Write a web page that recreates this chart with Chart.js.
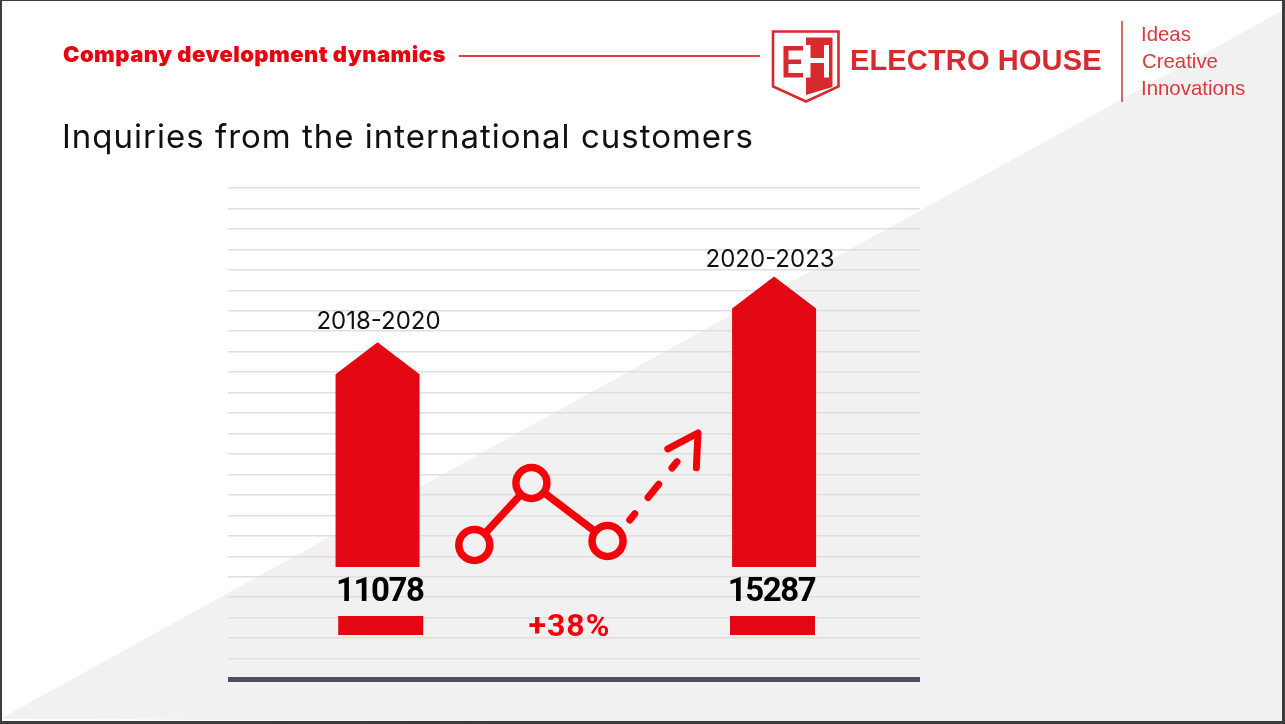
<!DOCTYPE html>
<html lang="en">
<head>
<meta charset="utf-8">
<title>Inquiries from the international customers</title>
<script src="https://cdn.jsdelivr.net/npm/chart.js@4/dist/chart.umd.min.js"></script>
<style>
  html, body { margin: 0; padding: 0; background: #fff; overflow: hidden; }
  #slide { position: relative; width: 1285px; height: 724px; background: #fff; overflow: hidden; }
  #slide div, #slide svg, #slide canvas { position: absolute; }
  #shade { left: 0; top: 0; width: 1285px; height: 724px; background: #f1f1f1;
    clip-path: polygon(1285px 9px, 1285px 724px, 0 719px); }
  #frame { left: 0; top: 0; width: 1285px; height: 724px; box-sizing: border-box;
    border: solid #3c3c3c; border-width: 1px 3px 3px 2px; }
  .txt { white-space: nowrap; line-height: 1; }
  #section { left: 63px; top: 41px; font: 900 22px Inter, sans-serif; color: #e8000d; letter-spacing: 0.45px; }
  #rule { left: 459px; top: 55px; width: 301px; height: 2px; background: #ea3a40; }
  #heading { left: 62px; top: 116px; font: 400 33px Inter, sans-serif; color: #111; letter-spacing: 1px; }
  #brand { left: 850px; top: 44px; font: 700 29px "Liberation Sans", sans-serif; color: #d62a2e; letter-spacing: 0.15px; }
  #divider { left: 1121px; top: 21px; width: 2px; height: 81px; background: #dc6668; }
  .motto { font: 400 20.4px "Liberation Sans", sans-serif; color: #d83a3e; }
</style>
</head>
<body>
<div id="slide">
  <div id="shade"></div>
  <canvas id="chart" width="1285" height="724"></canvas>
  <div class="txt" id="section">Company development dynamics</div>
  <div id="rule"></div>
  <div class="txt" id="heading">Inquiries from the international customers</div>
  <svg style="left:765px;top:25px" width="85" height="85" viewBox="765 25 85 85">
    <path d="M773 31.5H838.5V86.5L806 101.5L773 86.5Z" fill="#fff" stroke="#d62a2e" stroke-width="2.6"/>
    <path d="M783.5 46H803V50.5H788.5V59.5H801V64H788.5V73H803V77.5H783.5Z" fill="#d62a2e"/>
    <path d="M806 37.5H832.5V87L806 95Z" fill="#d62a2e"/>
    <path d="M806 45H810.5V58H824V45H829V77.5H824V63H810.5V77.5H806Z" fill="#fff"/>
  </svg>
  <div class="txt" id="brand">ELECTRO HOUSE</div>
  <div id="divider"></div>
  <div class="txt motto" style="left:1141px;top:23px">Ideas</div>
  <div class="txt motto" style="left:1142px;top:50px">Creative</div>
  <div class="txt motto" style="left:1141px;top:77px">Innovations</div>
  <div id="frame"></div>
</div>
<script>
"use strict";

const periods = ["2018-2020", "2020-2023"];
const inquiries = [11078, 15287];
const growth = "+38%";

// x values are the middle of each period, in years
const barX = [2019, 2021.5];
const barFloor = [-3308, -3308];
const blockX = [2019.02, 2021.49];
const blockTop = [-6446, -6446];
const blockBottom = [-7663, -7663];

// trend icon between the bars, read in the same units as the axes
const trendX = [2019.61, 2019.97, 2020.45];
const trendY = [-1900, 2070, -1643];
const dashX = [2020.59, 2020.907];
const dashY = [-299, 3671];
const headX = [2020.83, 2021.02, 2021.01];
const headY = [4250, 5272, 3040];
const growthX = 2020.21;

const gridStep = 1310;
const xMin = 2018.057;
const xMax = 2022.42;
const RED = "#e30613";
const ICON = "#f5000a";

const arrowBars = {
  id: "arrowBars",
  // first dataset is drawn with a pointed top instead of a plain rectangle
  beforeDatasetDraw(chart, args) {
    if (args.index !== 0) return;
    const { ctx, scales } = chart;
    args.meta.data.forEach((bar, i) => {
      const half = bar.width / 2;
      const tip = scales.y.getPixelForValue(inquiries[i]);
      const foot = scales.y.getPixelForValue(barFloor[i]);
      ctx.beginPath();
      ctx.moveTo(bar.x, tip);
      ctx.lineTo(bar.x + half, tip + 32);
      ctx.lineTo(bar.x + half, foot);
      ctx.lineTo(bar.x - half, foot);
      ctx.lineTo(bar.x - half, tip + 32);
      ctx.closePath();
      ctx.fillStyle = RED;
      ctx.fill();
    });
    return false;
  },
  afterDatasetsDraw(chart) {
    const { ctx, scales } = chart;
    const bars = chart.getDatasetMeta(0).data;
    const blocks = chart.getDatasetMeta(1).data;
    ctx.save();
    ctx.textAlign = "center";
    ctx.textBaseline = "middle";
    bars.forEach((bar, i) => {
      const tip = scales.y.getPixelForValue(inquiries[i]);
      ctx.letterSpacing = "0px";
      ctx.font = '400 24px Inter, sans-serif';
      ctx.fillStyle = "#111";
      ctx.fillText(periods[i], i ? bar.x - 4 : bar.x + 1, tip - (i ? 17 : 21));
      ctx.letterSpacing = "-1.4px";
      ctx.font = '700 33px Roboto, sans-serif';
      ctx.fillStyle = "#000";
      ctx.fillText(String(inquiries[i]), blocks[i].x - 1, scales.y.getPixelForValue(blockTop[i]) - 23);
    });
    ctx.letterSpacing = "1px";
    ctx.font = '700 32px Roboto, sans-serif';
    ctx.fillStyle = ICON;
    ctx.fillText(growth, scales.x.getPixelForValue(growthX), scales.y.getPixelForValue(blockBottom[0]) - 7);
    ctx.restore();
  },
};

new Chart(document.getElementById("chart"), {
  type: "bar",
  plugins: [arrowBars],
  data: {
    datasets: [
      {
        label: "Inquiries",
        data: barX.map((x, i) => ({ x, y: [barFloor[i], inquiries[i]] })),
        backgroundColor: RED,
        grouped: false,
        maxBarThickness: 84,
      },
      {
        label: "Base",
        xAxisID: "x2",
        data: blockX.map((x, i) => ({ x, y: [blockBottom[i], blockTop[i]] })),
        backgroundColor: RED,
        grouped: false,
        maxBarThickness: 85,
      },
      {
        type: "line",
        label: "Trend",
        data: trendX.map((x, i) => ({ x, y: trendY[i] })),
        borderColor: ICON,
        borderWidth: 7.5,
        pointRadius: 15.5,
        pointBorderWidth: 7.5,
        pointBorderColor: ICON,
        pointBackgroundColor: "#f1f1f1",
      },
      {
        type: "line",
        label: "Forecast",
        data: dashX.map((x, i) => ({ x, y: dashY[i] })),
        borderColor: ICON,
        borderWidth: 7,
        borderDash: [8, 21, 17, 21, 8],
        borderCapStyle: "round",
        pointRadius: 0,
      },
      {
        type: "line",
        label: "Arrow",
        data: headX.map((x, i) => ({ x, y: headY[i] })),
        borderColor: ICON,
        borderWidth: 7,
        borderCapStyle: "round",
        borderJoinStyle: "round",
        pointRadius: 0,
      },
    ],
  },
  options: {
    responsive: false,
    animation: false,
    events: [],
    layout: { padding: { left: 228, right: 365, top: 188, bottom: 45 } },
    plugins: { legend: { display: false }, tooltip: { enabled: false } },
    scales: {
      x: { type: "linear", display: false, offset: false, min: xMin, max: xMax, ticks: { stepSize: 1 } },
      x2: { type: "linear", axis: "x", display: false, offset: false, min: xMin, max: xMax, ticks: { stepSize: 1 } },
      y: {
        min: -8 * gridStep,
        max: 16 * gridStep,
        border: { display: false },
        ticks: { display: false, stepSize: gridStep },
        afterFit(scale) { scale.width = 0; },
        grid: {
          drawTicks: false,
          color: (c) => (c.tick.value === -8 * gridStep ? "#4e4f63" : "#dfdfdf"),
          lineWidth: (c) => (c.tick.value === -8 * gridStep ? 5 : 1.5),
        },
      },
    },
  },
});
</script>
</body>
</html>
